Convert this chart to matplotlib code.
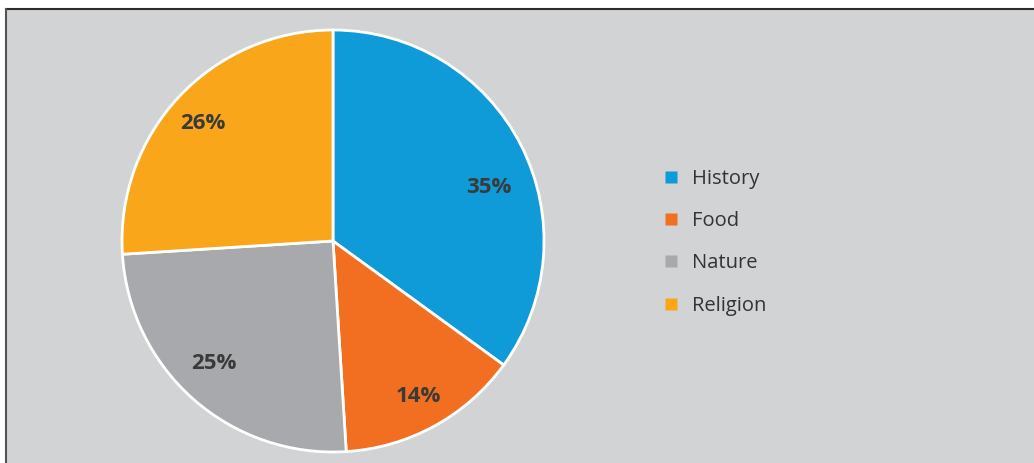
import numpy as np
import matplotlib.pyplot as plt
from matplotlib.patches import Rectangle
from matplotlib.lines import Line2D

categories = ["History", "Food", "Nature", "Religion"]
shares = [35, 14, 25, 26]
colors = ["#0e9bd8", "#f26f21", "#a7a9ac", "#f9a61b"]

plt.rcParams['font.family'] = ['Open Sans', 'DejaVu Sans']

W, H = 1034, 463
fig = plt.figure(figsize=(W / 100, H / 100), dpi=100)
fig.patch.set_facecolor("white")

# grey panel with dark top/left border
fig.patches.append(Rectangle((6 / W, 0), 1, 1 - 9 / H, transform=fig.transFigure,
                             facecolor="#d1d3d4", edgecolor="none", zorder=-5))
fig.lines.append(Line2D([6 / W, 1], [1 - 9 / H, 1 - 9 / H], transform=fig.transFigure,
                        color="#2b2b2b", lw=1.5, zorder=-4))
fig.lines.append(Line2D([6 / W, 6 / W], [0, 1 - 9 / H], transform=fig.transFigure,
                        color="#555555", lw=1.5, zorder=-4))

cx, cy, r = 333, 241, 211
ax = fig.add_axes([(cx - r) / W, (H - cy - r) / H, 2 * r / W, 2 * r / H])
ax.set_facecolor("none")
wedges, texts, autotexts = ax.pie(
    shares, colors=colors, startangle=90, counterclock=False,
    autopct="%d%%", pctdistance=0.8,
    wedgeprops=dict(edgecolor="white", linewidth=2),
    textprops=dict(fontsize=16, fontweight="bold", color="#3a3a3a"))

# nudge labels to where the original placed them
label_shift_deg = [-8, 0, -3, 1]
label_r = [0.78, 0.84, 0.81, 0.83]
for w, t, d, lr in zip(wedges, autotexts, label_shift_deg, label_r):
    a = np.deg2rad((w.theta1 + w.theta2) / 2 + d)
    t.set_position((lr * np.cos(a), lr * np.sin(a)))

ax.set_xlim(-1, 1)
ax.set_ylim(-1, 1)
ax.set_aspect("equal")
ax.axis("off")

handles = [Line2D([], [], marker="s", linestyle="none", markersize=9,
                  markerfacecolor=c, markeredgecolor="none") for c in colors]
fig.legend(handles, categories, loc="upper left",
           bbox_to_anchor=(643 / W, 1 - 151 / H), frameon=False,
           fontsize=14.5, labelcolor="#333333", handletextpad=0.55,
           labelspacing=1.1, handlelength=1.0)

fig.savefig("out.png", dpi=100)
